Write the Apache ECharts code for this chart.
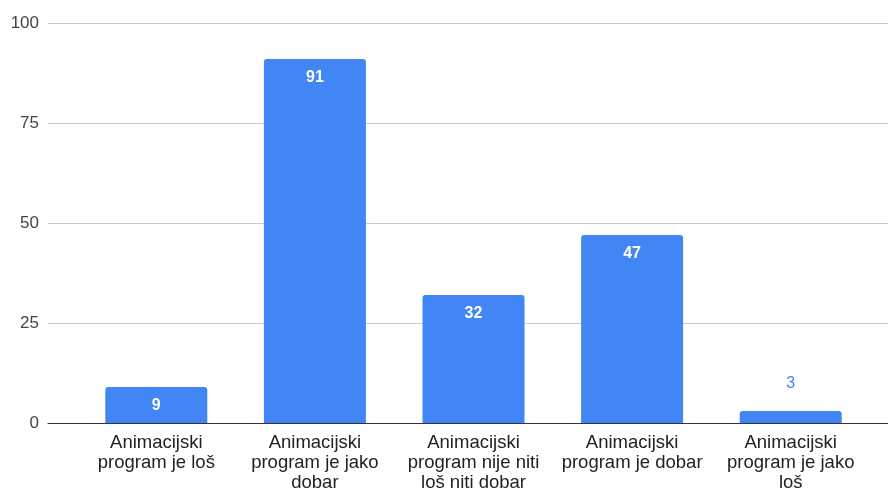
<!DOCTYPE html>
<html><head><meta charset="utf-8">
<script src="https://cdn.jsdelivr.net/npm/echarts@6/dist/echarts.min.js"></script>
<style>html,body{margin:0;padding:0;background:#fff}#c{width:888px;height:488px}</style>
</head><body><div id="c"></div>
<script>
const categories = [
  "Animacijski\nprogram je loš",
  "Animacijski\nprogram je jako\ndobar",
  "Animacijski\nprogram nije niti\nloš niti dobar",
  "Animacijski\nprogram je dobar",
  "Animacijski\nprogram je jako\nloš"
];
const values = [9, 91, 32, 47, 3];
const yTicks = [0, 25, 50, 75, 100];

const FONT = '"Liberation Sans", Arial, sans-serif';
const chart = echarts.init(document.getElementById('c'), null, {renderer: 'canvas'});
chart.setOption({
  animation: false,
  grid: [
    {left: 77, right: 18, top: 23, bottom: 65, outerBoundsMode: 'none', containLabel: false},
    {left: 48, right: 0, top: 23, bottom: 65, outerBoundsMode: 'none', containLabel: false}
  ],
  xAxis: [
    {type: 'category', gridIndex: 0, data: categories,
     axisLine: {show: false}, axisTick: {show: false},
     axisLabel: {interval: 0, fontFamily: FONT, fontSize: 18.5, lineHeight: 20, color: '#222', margin: 10}},
    {type: 'category', gridIndex: 1, data: [''],
     axisLine: {show: true, lineStyle: {color: '#333', width: 1}},
     axisTick: {show: false}, axisLabel: {show: false}}
  ],
  yAxis: [
    {type: 'value', gridIndex: 0, min: yTicks[0], max: yTicks[yTicks.length - 1], interval: 25,
     show: false, splitLine: {show: false}},
    {type: 'value', gridIndex: 1, min: yTicks[0], max: yTicks[yTicks.length - 1], interval: 25,
     axisLine: {show: false}, axisTick: {show: false},
     axisLabel: {fontFamily: FONT, fontSize: 17, color: '#444', margin: 9},
     splitLine: {lineStyle: {color: '#ccc', width: 1}}}
  ],
  series: [{
    type: 'bar', xAxisIndex: 0, yAxisIndex: 0,
    barWidth: 102,
    itemStyle: {color: '#4285F4', borderRadius: [3, 3, 0, 0]},
    data: values.map(v => v < 5 ? {
      value: v,
      label: {position: 'top', distance: 19, color: '#4285F4', fontWeight: 'normal'}
    } : v),
    label: {show: true, position: 'insideTop', distance: 11, color: '#fff',
            fontFamily: FONT, fontSize: 16, fontWeight: 'bold'}
  }]
});
</script></body></html>
